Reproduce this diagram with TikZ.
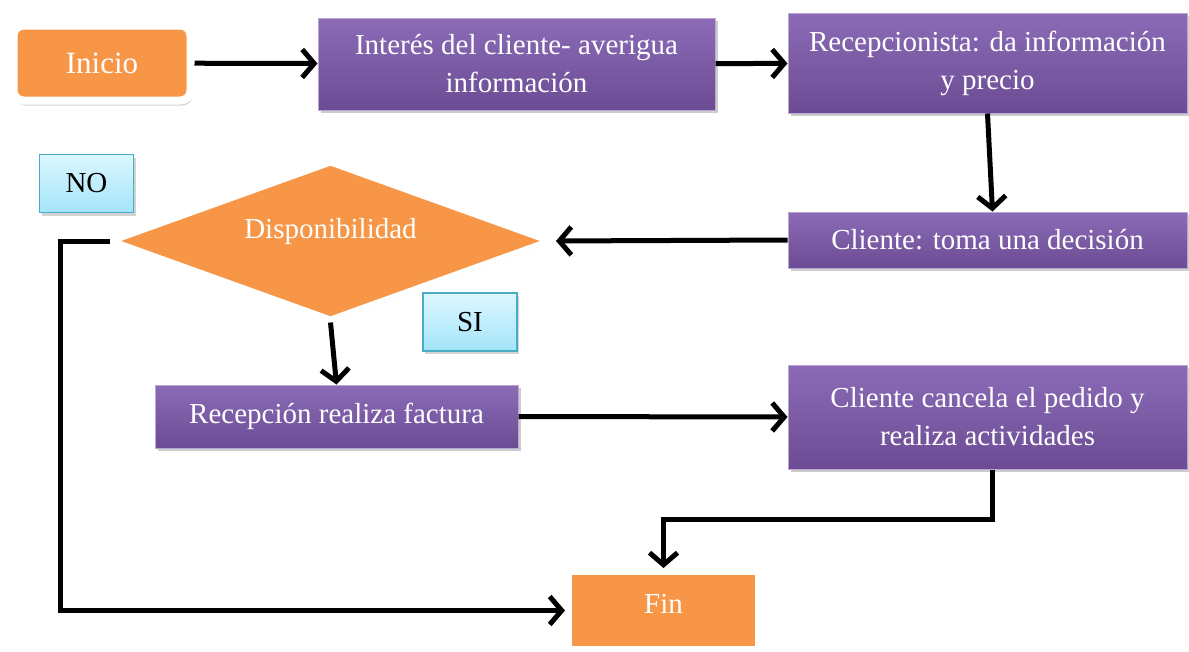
\documentclass[tikz,border=0pt]{standalone}
\usepackage{fontspec}
\setmainfont{Liberation Serif}
\usepackage{tikz}
\usetikzlibrary{
  arrows.meta,
  positioning,
  shapes.geometric,
  shadows
}
\definecolor{purpletop}{HTML}{8B6BB6}
\definecolor{purplebot}{HTML}{6B4C94}
\definecolor{termorange}{HTML}{F79646}
\definecolor{tagtop}{HTML}{DDF7FF}
\definecolor{tagbot}{HTML}{A3E4F9}
\definecolor{tagedge}{HTML}{4BACC6}
\tikzset{
  procbox/.style={rectangle, top color=purpletop, bottom color=purplebot,
    draw=purpletop!60!white, line width=1pt, inner sep=0pt,
    align=center, text=white, font=\fontsize{29}{38}\selectfont,
    drop shadow={opacity=0.4, shadow xshift=3pt, shadow yshift=-3pt}},
  termbox/.style={rectangle, fill=termorange, draw=white, inner sep=0pt,
    align=center, text=white, font=\fontsize{29}{38}\selectfont,
    drop shadow={opacity=0.35, shadow xshift=2pt, shadow yshift=-5pt}},
  decbox/.style={diamond, fill=termorange, draw=white, line width=5pt,
    inner sep=0pt,
    drop shadow={opacity=0.15, shadow xshift=2pt, shadow yshift=-2pt}},
  arr/.style={-{Straight Barb[length=12pt, width=28pt]}, line width=5pt,
    black},
}
\begin{document}
\begin{tikzpicture}[
  x=1pt, y=-1pt,
  tagbox/.style={rectangle, top color=tagtop, bottom color=tagbot,
    draw=tagedge, line width=1.5pt, inner sep=0pt,
    minimum width=94pt, minimum height=58pt,
    font=\fontsize{29}{34}\selectfont,
    drop shadow={opacity=0.35, shadow xshift=2pt, shadow yshift=-3pt}},
  dectext/.style={text=white, font=\fontsize{29}{34}\selectfont}
]
  \useasboundingbox (0,0) rectangle (1189,651);

  % Top row
  \node[termbox, line width=8pt, rounded corners=10pt,
        minimum width=177pt, minimum height=75pt,
        font=\fontsize{31}{36}\selectfont] (inicio) at (102,63) {Inicio};
  \node[procbox, minimum width=397pt, minimum height=92pt]
    (interes) at (516.5,64) {Interés del cliente- averigua\\información};
  \node[procbox, minimum width=399pt, minimum height=100pt]
    (recep) at (987.5,63) {Recepcionista: da información\\y precio};

  % Decision
  \node[procbox, minimum width=399pt, minimum height=56pt]
    (toma) at (987.5,240) {Cliente: toma una decisión};
  \node[decbox, minimum width=436pt, minimum height=158pt]
    (disp) at (330.5,241) {};
  \node[dectext] (disptxt) at ([yshift=9pt]disp.center) {Disponibilidad};
  \node[tagbox] (no) at (86.5,183.5) {NO};
  \node[tagbox] (si) at (470,322) {SI};

  % Bottom row
  \node[procbox, minimum width=363pt, minimum height=63pt]
    (recfac) at (336.5,416.5) {Recepción realiza factura};
  \node[procbox, minimum width=399pt, minimum height=104pt]
    (cancela) at (987.5,417) {Cliente cancela el pedido y\\realiza actividades};
  \node[termbox, line width=7pt, minimum width=190pt, minimum height=78pt,
        text depth=14pt] (fin) at (663.5,610.5) {Fin};

  % Arrows
  \draw[arr] (inicio) -- (interes);
  \draw[arr] (interes) -- (recep);
  \draw[arr] (recep.south) -- ([xshift=5pt]toma.north);
  \draw[arr, shorten >=5pt] (toma.west) -- (disp.east);
  \draw[arr] (disp.south) -- (recfac.north);
  \draw[arr] (recfac.east) -- (cancela.west);
  \draw[arr] ([xshift=5pt]cancela.south) -- ++(0,50) -| (fin.north);
  \draw[arr] (disp.west) -- ++(-50,0) |- (fin.west);
\end{tikzpicture}
\end{document}
